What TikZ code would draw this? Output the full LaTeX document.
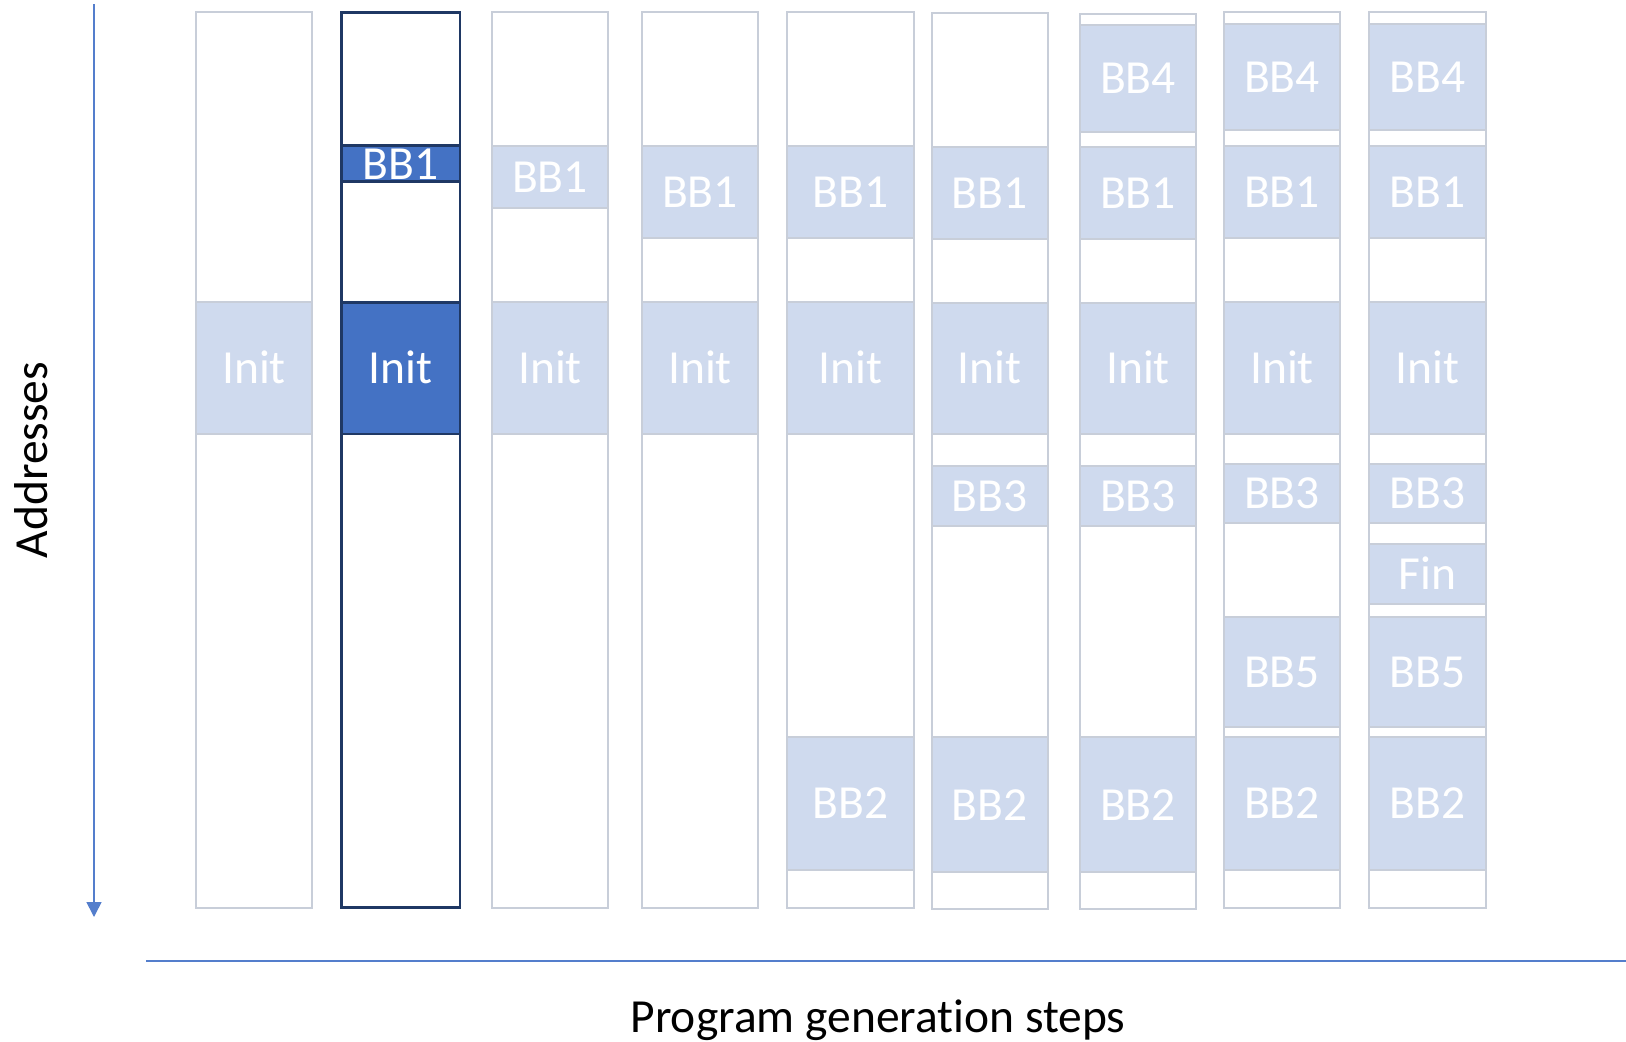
\documentclass[tikz,border=0pt]{standalone}
\usepackage{fontspec}
\setmainfont{Carlito}[Ligatures=NoCommon]
\usetikzlibrary{arrows.meta}

\definecolor{blkfill}{RGB}{207,218,238}
\definecolor{edgegray}{RGB}{200,206,217}
\definecolor{hotfill}{RGB}{68,114,196}
\definecolor{hotedge}{RGB}{31,56,100}
\definecolor{axisblue}{RGB}{84,126,204}

\tikzset{
  lbl/.style={inner sep=0pt, outer sep=0pt, text height=30.6pt, text depth=0pt,
              font=\fontsize{47.5}{52}\selectfont},
  colbox/.style={draw=edgegray, line width=2pt, fill=white},
  hotcol/.style={draw=hotedge, line width=2.6pt, fill=white},
  blkbox/.style={lbl, draw=edgegray, line width=2pt, fill=blkfill, text=white},
  hotblk/.style={lbl, draw=hotedge, line width=2.6pt, fill=hotfill, text=white},
  axis/.style={draw=axisblue, line width=1.6pt},
}

% \blk{style}{name}{x1}{y1}{x2}{y2}{label}
\newcommand\blk[7]{%
  \node[#1, minimum width={(#5)-(#3)}, minimum height={(#6)-(#4)}]
    (#2) at ({((#3)+(#5))/2},{((#4)+(#6))/2}) {#7};}

\begin{document}
\begin{tikzpicture}[x=1pt,y=-1pt]
\useasboundingbox (0,0) rectangle (1626,1042);

% address axis
\coordinate (atop) at (94,4);
\coordinate (abot) at (94,917);
\draw[axis, -{Triangle[width=15pt,length=15pt]}] (atop) -- (abot);
\node[lbl, rotate=90] (addr) at (32.5,460) {Addresses};

% step axis
\coordinate (hl) at (146,961);
\coordinate (hr) at (1626,961);
\draw[axis] (hl) -- (hr);
\node[lbl] (steps) at (878,1017) {Program generation steps};

% memory columns
\blk{colbox}{c1}{195.7}{11.7}{312.3}{907.7}{}
\blk{hotcol}{c2}{341.7}{12.3}{460}{907.7}{}
\blk{colbox}{c3}{491.7}{12.3}{608.3}{907.7}{}
\blk{colbox}{c4}{641.7}{12.3}{758.3}{907.7}{}
\blk{colbox}{c5}{787.3}{12.3}{914}{907.7}{}
\blk{colbox}{c6}{931.7}{13.3}{1047.7}{909.3}{}
\blk{colbox}{c7}{1080}{14}{1196}{909.3}{}
\blk{colbox}{c8}{1224}{12.3}{1340}{907.7}{}
\blk{colbox}{c9}{1369.3}{12.3}{1486}{907.7}{}

% step 1
\blk{blkbox}{init1}{195.7}{301.7}{312.3}{434}{Init}
% step 2
\blk{hotblk}{bbone2}{341.7}{145.7}{460}{181.7}{BB1}
\blk{hotblk}{init2}{341.7}{302.3}{460}{434}{Init}
% step 3
\blk{blkbox}{bbone3}{491.7}{145.7}{608.3}{207.7}{BB1}
\blk{blkbox}{init3}{491.7}{301.7}{608.3}{434}{Init}
% step 4
\blk{blkbox}{bbone4}{641.7}{145.7}{758.3}{238.3}{BB1}
\blk{blkbox}{init4}{641.7}{301.7}{758.3}{434}{Init}
% step 5
\blk{blkbox}{bbone5}{787.3}{145.7}{914}{238.3}{BB1}
\blk{blkbox}{init5}{787.3}{301.7}{914}{434}{Init}
\blk{blkbox}{bbtwo5}{787.3}{737.3}{914}{870}{BB2}
% step 6
\blk{blkbox}{bbone6}{931.7}{146.7}{1047.7}{239.3}{BB1}
\blk{blkbox}{init6}{931.7}{302.7}{1047.7}{434}{Init}
\blk{blkbox}{bbthree6}{931.7}{465.7}{1047.7}{526}{BB3}
\blk{blkbox}{bbtwo6}{931.7}{737.3}{1047.7}{872.3}{BB2}
% step 7
\blk{blkbox}{bbfour7}{1080}{25}{1196}{132.3}{BB4}
\blk{blkbox}{bbone7}{1080}{147.3}{1196}{239.3}{BB1}
\blk{blkbox}{init7}{1080}{302.7}{1196}{434}{Init}
\blk{blkbox}{bbthree7}{1080}{465.7}{1196}{526}{BB3}
\blk{blkbox}{bbtwo7}{1080}{737.3}{1196}{872.3}{BB2}
% step 8
\blk{blkbox}{bbfour8}{1224}{24}{1340}{130}{BB4}
\blk{blkbox}{bbone8}{1224}{145.7}{1340}{238.3}{BB1}
\blk{blkbox}{init8}{1224}{301.7}{1340}{434}{Init}
\blk{blkbox}{bbthree8}{1224}{464}{1340}{523.3}{BB3}
\blk{blkbox}{bbfive8}{1224}{617.3}{1340}{726.7}{BB5}
\blk{blkbox}{bbtwo8}{1224}{737.3}{1340}{870}{BB2}
% step 9
\blk{blkbox}{bbfour9}{1369.3}{24}{1486}{130}{BB4}
\blk{blkbox}{bbone9}{1369.3}{145.7}{1486}{238.3}{BB1}
\blk{blkbox}{init9}{1369.3}{301.7}{1486}{434}{Init}
\blk{blkbox}{bbthree9}{1369.3}{464}{1486}{523.3}{BB3}
\blk{blkbox}{fin9}{1369.3}{544}{1486}{604.3}{Fin}
\blk{blkbox}{bbfive9}{1369.3}{617.3}{1486}{726.7}{BB5}
\blk{blkbox}{bbtwo9}{1369.3}{737.3}{1486}{870}{BB2}
\end{tikzpicture}
\end{document}
